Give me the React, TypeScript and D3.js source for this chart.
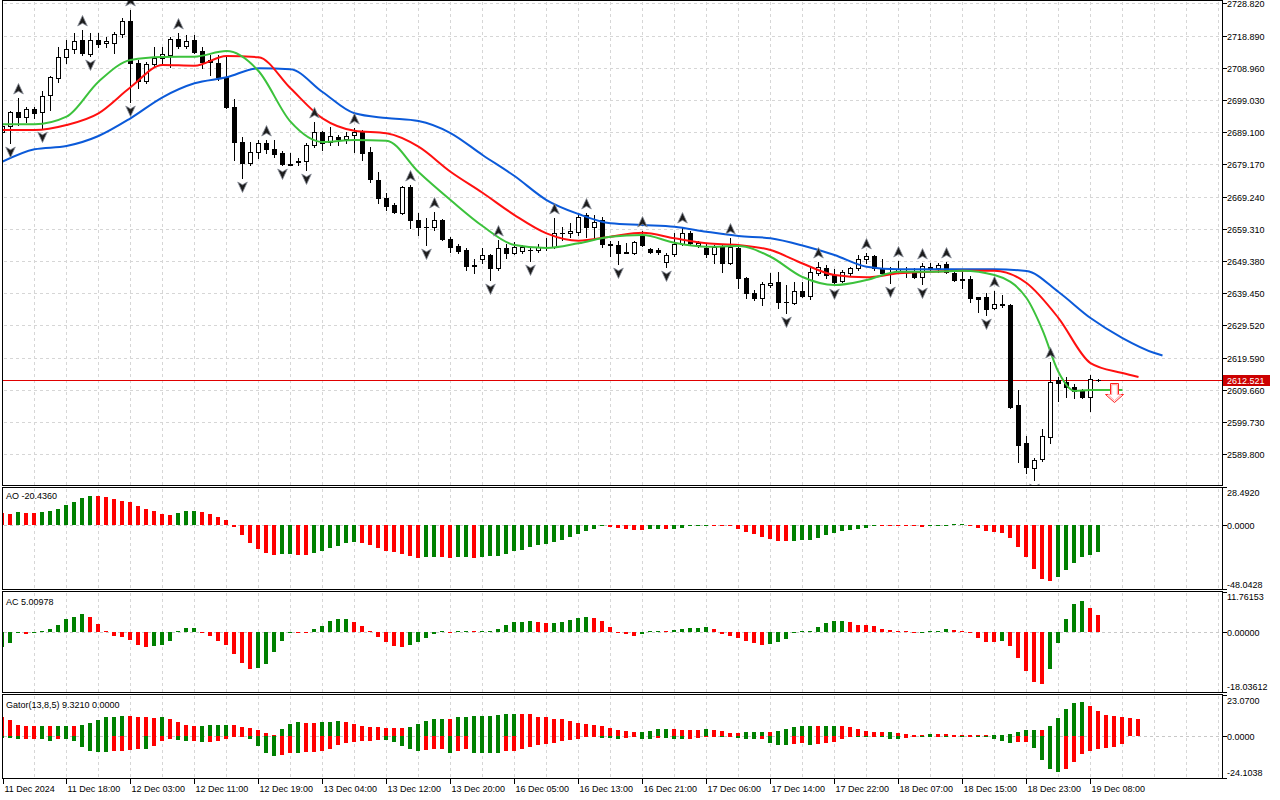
import React, { useRef, useEffect } from "react";
import * as d3 from "d3";

// H1 candles, 11 Dec 10:00 .. 19 Dec 08:00 (bar 0 is partly hidden by the left border)
const opens = [
  2689.13, 2690.98, 2695.3, 2693.76, 2696.22, 2695.3, 2700.54, 2705.78, 2712.26, 2714.73,
  2717.5, 2713.19, 2717.5, 2716.58, 2716.58, 2719.36, 2723.36, 2710.41, 2704.86, 2710.1,
  2711.95, 2712.88, 2717.81, 2715.65, 2717.5, 2714.11, 2711.34, 2710.41, 2706.09, 2696.84,
  2686.05, 2679.57, 2682.96, 2685.74, 2683.89, 2682.65, 2679.26, 2680.19, 2680.19, 2685.12,
  2689.13, 2686.05, 2687.59, 2686.97, 2688.21, 2689.13, 2682.96, 2674.33, 2668.78, 2666.62,
  2664.15, 2672.17, 2662.02, 2659.83, 2659.83, 2662.02, 2656.13, 2653.97, 2652.74, 2648.11,
  2649.87, 2651.2, 2647.19, 2653.36, 2651.82, 2652.53, 2652.74, 2652.74, 2653.67, 2653.67,
  2657.98, 2657.98, 2658.29, 2663.53, 2659.83, 2662.0, 2654.59, 2654.28, 2652.12, 2651.82,
  2657.06, 2653.05, 2652.74, 2649.04, 2651.51, 2654.59, 2657.98, 2654.28, 2653.36, 2651.51,
  2653.67, 2648.73, 2653.36, 2644.1, 2639.48, 2637.94, 2641.95, 2642.87, 2636.7, 2636.4,
  2640.1, 2638.55, 2645.65, 2647.19, 2645.03, 2643.18, 2645.65, 2647.19, 2649.96, 2650.89,
  2646.88, 2645.65, 2646.26, 2646.36, 2645.96, 2644.41, 2647.5, 2647.19, 2648.42, 2645.65,
  2643.8, 2643.8, 2638.25, 2638.25, 2634.85, 2636.09, 2635.78, 2604.94, 2593.22, 2585.51,
  2588.28, 2595.07, 2612.65, 2612.03, 2610.49, 2609.26, 2607.41, 2612.8,
];
const highs = [
  2691.91, 2695.61, 2699.62, 2696.84, 2696.84, 2701.78, 2706.4, 2715.34, 2717.5, 2719.66,
  2720.59, 2719.66, 2719.66, 2718.43, 2719.97, 2724.29, 2726.76, 2711.34, 2710.72, 2715.34,
  2715.34, 2718.43, 2719.66, 2719.05, 2719.05, 2715.34, 2712.88, 2712.88, 2712.26, 2699.31,
  2687.59, 2686.05, 2686.66, 2686.66, 2686.66, 2683.27, 2682.65, 2681.11, 2685.74, 2692.22,
  2689.44, 2690.67, 2688.21, 2689.13, 2690.36, 2689.75, 2684.51, 2676.79, 2670.32, 2667.24,
  2672.48, 2672.79, 2664.15, 2662.61, 2664.46, 2662.3, 2656.75, 2654.59, 2653.36, 2649.96,
  2653.36, 2651.51, 2655.82, 2654.59, 2655.21, 2654.28, 2653.67, 2654.59, 2656.44, 2662.61,
  2659.83, 2661.07, 2663.53, 2664.15, 2663.53, 2662.92, 2655.52, 2655.52, 2654.9, 2655.52,
  2658.6, 2653.36, 2653.36, 2651.82, 2657.98, 2659.83, 2658.6, 2655.52, 2654.9, 2654.28,
  2654.59, 2656.44, 2653.97, 2644.41, 2640.4, 2642.87, 2645.65, 2645.96, 2641.95, 2642.87,
  2642.87, 2647.5, 2649.04, 2648.11, 2646.88, 2646.57, 2647.5, 2651.2, 2651.82, 2651.2,
  2649.96, 2647.5, 2649.35, 2647.5, 2647.19, 2648.73, 2648.73, 2648.73, 2649.04, 2646.57,
  2646.88, 2644.72, 2638.4, 2639.48, 2640.1, 2638.86, 2636.09, 2609.57, 2595.38, 2588.59,
  2597.54, 2618.2, 2613.57, 2613.57, 2611.41, 2609.87, 2614.19, 2612.96,
];
const lows = [
  2688.51, 2685.74, 2691.29, 2692.22, 2693.45, 2690.36, 2695.92, 2704.55, 2710.41, 2713.49,
  2712.88, 2712.57, 2715.35, 2715.35, 2713.49, 2718.43, 2698.38, 2702.7, 2704.24, 2709.18,
  2710.41, 2709.18, 2715.04, 2715.04, 2713.49, 2708.87, 2706.71, 2705.17, 2696.53, 2680.5,
  2674.94, 2678.95, 2681.11, 2682.65, 2681.42, 2678.95, 2678.95, 2678.95, 2677.41, 2684.51,
  2683.58, 2685.12, 2685.12, 2685.74, 2682.96, 2680.5, 2673.71, 2667.24, 2665.08, 2664.15,
  2663.84, 2659.53, 2657.37, 2654.28, 2658.91, 2655.82, 2652.12, 2651.82, 2646.57, 2645.65,
  2648.73, 2643.49, 2646.57, 2650.27, 2651.51, 2651.82, 2649.35, 2652.12, 2652.74, 2653.36,
  2655.82, 2656.75, 2657.37, 2656.75, 2656.75, 2653.67, 2650.89, 2648.42, 2651.82, 2651.51,
  2653.97, 2651.82, 2651.51, 2647.5, 2650.89, 2654.28, 2654.28, 2653.67, 2650.58, 2648.73,
  2645.96, 2648.42, 2641.02, 2637.94, 2637.32, 2635.78, 2641.33, 2634.85, 2633.31, 2636.09,
  2638.25, 2637.63, 2645.03, 2644.1, 2641.95, 2642.87, 2645.03, 2646.57, 2648.73, 2646.57,
  2645.03, 2642.56, 2645.65, 2644.41, 2644.26, 2642.25, 2646.26, 2645.96, 2645.65, 2643.18,
  2641.02, 2636.7, 2633.62, 2632.69, 2634.54, 2635.16, 2604.01, 2587.36, 2583.97, 2581.81,
  2587.67, 2593.22, 2606.17, 2607.41, 2607.1, 2607.1, 2603.09, 2612.34,
];
const closes = [
  2690.98, 2695.3, 2693.76, 2696.22, 2694.99, 2700.23, 2706.09, 2712.26, 2714.73, 2717.2,
  2713.49, 2717.5, 2716.27, 2717.2, 2719.36, 2723.36, 2710.41, 2704.86, 2710.1, 2711.95,
  2713.19, 2717.81, 2715.65, 2717.2, 2713.8, 2710.72, 2710.72, 2706.09, 2696.84, 2686.05,
  2679.57, 2682.96, 2685.74, 2683.89, 2682.35, 2679.26, 2679.11, 2680.03, 2685.12, 2689.13,
  2685.74, 2687.9, 2686.97, 2687.9, 2689.13, 2682.65, 2674.64, 2668.78, 2666.31, 2664.46,
  2672.17, 2662.02, 2659.83, 2659.7, 2661.99, 2656.13, 2653.67, 2652.43, 2647.81, 2647.96,
  2651.2, 2647.19, 2653.36, 2651.82, 2653.67, 2653.67, 2652.6, 2653.67, 2653.8, 2657.98,
  2658.07, 2658.6, 2662.92, 2659.83, 2661.38, 2654.59, 2654.44, 2651.82, 2651.97, 2655.21,
  2654.28, 2652.12, 2652.12, 2651.2, 2654.59, 2657.98, 2654.9, 2654.9, 2651.51, 2653.67,
  2648.73, 2653.67, 2644.1, 2639.48, 2637.94, 2642.25, 2642.56, 2636.7, 2636.86, 2640.1,
  2638.55, 2645.96, 2647.5, 2645.03, 2642.87, 2645.96, 2647.19, 2649.96, 2650.89, 2647.19,
  2645.65, 2645.34, 2646.88, 2646.42, 2644.41, 2647.81, 2647.34, 2648.11, 2645.96, 2643.49,
  2643.64, 2637.94, 2637.78, 2634.54, 2636.09, 2635.93, 2604.32, 2592.6, 2585.82, 2587.98,
  2595.38, 2612.03, 2611.72, 2610.49, 2609.26, 2607.41, 2612.96, 2612.52,
];

const fractalUpBars = [2, 10, 16, 22, 33, 39, 44, 51, 54, 62, 69, 73, 80, 85, 91, 102, 108, 112, 115, 118, 124, 131];
const fractalDownBars = [1, 5, 11, 16, 30, 35, 38, 53, 61, 66, 77, 83, 98, 104, 111, 115, 123, 129];

// Alligator lines, read every 4 bars (already shifted forward)
const jawBars = [0, 4, 8, 12, 16, 20, 24, 28, 32, 36, 40, 44, 48, 52, 56, 60, 64, 68, 72, 76, 80, 84, 88, 92, 96, 100, 104, 108, 112, 116, 120, 124, 128, 132, 136, 140, 144, 145];
const jawValues = [
  2679.97, 2683.8, 2684.81, 2687.9, 2693.36, 2699.83, 2704.15, 2706.0, 2708.78, 2708.47,
  2701.47, 2694.9, 2693.45, 2692.52, 2688.82, 2682.04, 2675.56, 2668.16, 2663.84, 2660.97,
  2660.45, 2659.93, 2658.38, 2657.06, 2656.35, 2654.13, 2651.2, 2647.59, 2646.79, 2646.79,
  2646.79, 2646.79, 2646.26, 2639.79, 2631.77, 2625.6, 2620.97, 2620.2,
];
const teethBars = [0, 4, 8, 12, 16, 20, 24, 28, 32, 36, 40, 44, 48, 52, 56, 60, 64, 68, 72, 76, 80, 84, 88, 92, 96, 100, 104, 108, 112, 116, 120, 124, 128, 132, 136, 140, 142];
const teethValues = [
  2689.75, 2689.75, 2691.29, 2694.9, 2702.92, 2709.79, 2709.58, 2712.57, 2712.17, 2702.61,
  2693.36, 2689.53, 2688.73, 2684.6, 2676.89, 2670.41, 2663.53, 2657.89, 2655.61, 2656.84,
  2658.08, 2656.35, 2654.81, 2654.28, 2652.74, 2648.58, 2645.03, 2644.32, 2645.55, 2646.05,
  2646.36, 2646.36, 2642.56, 2631.77, 2617.89, 2614.81, 2613.57,
];
const lipsBars = [0, 4, 8, 12, 16, 20, 24, 28, 32, 36, 40, 44, 48, 52, 56, 60, 64, 68, 72, 76, 80, 84, 88, 92, 96, 100, 104, 108, 112, 116, 120, 124, 128, 130, 132, 134, 136, 140];
const lipsValues = [
  2691.51, 2691.51, 2693.85, 2704.64, 2711.34, 2712.26, 2712.35, 2714.11, 2707.94, 2692.31,
  2686.05, 2686.66, 2686.45, 2676.8, 2668.16, 2660.14, 2654.28, 2653.36, 2654.81, 2656.84,
  2657.37, 2654.99, 2653.76, 2653.97, 2650.67, 2644.41, 2641.95, 2643.49, 2646.05, 2646.05,
  2646.36, 2645.03, 2637.94, 2628.07, 2615.12, 2609.26, 2609.56, 2609.56,
];

const aoValues = [
  8.84, 8.33, 9.85, 9.34, 9.1, 9.6, 10.86, 12.37, 15.4, 17.42,
  20.45, 22.22, 21.97, 21.21, 19.7, 18.43, 17.17, 14.39, 11.87, 10.61,
  8.33, 7.58, 9.09, 10.61, 10.86, 9.85, 8.33, 6.06, 3.79, -1.26,
  -7.58, -13.38, -18.18, -21.46, -22.47, -21.97, -21.72, -22.47, -22.73, -20.96,
  -19.44, -17.42, -15.66, -13.38, -12.63, -13.38, -15.15, -17.17, -19.44, -20.45,
  -21.97, -23.23, -24.75, -24.24, -23.99, -24.24, -24.75, -24.24, -23.99, -24.75,
  -24.49, -23.74, -23.23, -21.72, -19.7, -18.69, -16.92, -15.15, -14.14, -12.88,
  -11.36, -8.84, -6.57, -4.55, -3.03, -1.0, -1.2, -2.3, -3.03, -3.79,
  -3.9, -3.28, -2.78, -3.03, -2.78, -2.02, -0.51, -0.25, -0.1, -0.3,
  -0.76, -1.01, -2.78, -5.56, -6.82, -8.84, -10.35, -11.87, -12.0, -11.87,
  -11.7, -11.36, -9.6, -7.32, -5.81, -4.55, -3.79, -2.78, -2.02, -0.51,
  -0.6, -0.7, -0.8, -0.9, -1.01, -1.26, -0.51, -0.4, -0.25, 0.76,
  0.8, -0.51, -2.02, -4.29, -5.05, -6.31, -9.6, -16.41, -23.99, -33.08,
  -40.66, -42.17, -39.14, -33.84, -28.54, -23.99, -22.47, -20.44,
];
const acValues = [
  -4.22, -3.04, -0.28, -0.35, -0.2, 0.1, 1.01, 2.19, 3.87, 4.46,
  5.45, 4.66, 2.49, 0.2, -0.97, -1.26, -2.25, -3.73, -4.22, -3.93,
  -3.85, -2.45, 0.2, 1.3, 1.35, -0.2, -0.97, -2.45, -3.63, -6.3,
  -8.97, -10.74, -10.45, -9.26, -5.71, -2.45, -0.08, -0.15, -0.2, 1.01,
  1.99, 3.48, 4.07, 4.1, 3.18, 1.99, 0.32, -1.26, -2.74, -3.93,
  -4.22, -3.73, -2.74, -1.56, -0.5, 0.1, -0.08, 0.32, 0.41, 0.0,
  0.22, 0.41, 1.01, 2.19, 3.08, 3.1, 3.38, 3.08, 2.88, 2.9,
  3.08, 3.67, 4.36, 4.56, 4.27, 3.38, 1.7, -0.08, -0.47, -0.97,
  -0.57, 0.1, 0.22, 0.2, 0.71, 1.01, 1.2, 1.3, 1.7, 0.91,
  -0.38, -0.97, -1.66, -2.65, -3.24, -3.73, -3.44, -2.74, -1.86, -0.28,
  0.02, 0.32, 1.5, 2.69, 3.38, 3.4, 2.98, 2.19, 2.15, 1.99,
  1.01, 0.61, 0.22, 0.02, -0.1, -0.05, 0.32, 0.41, 0.91, 0.85,
  0.51, -0.08, -1.56, -2.74, -2.8, -2.45, -3.93, -7.48, -11.33, -14.59,
  -15.19, -10.74, -3.04, 3.87, 8.41, 9.3, 7.23, 5.01,
];
const gatorUpper = [
  10.54, 9.04, 6.23, 5.67, 5.6, 5.67, 5.6, 5.67, 5.7, 5.65,
  6.23, 7.54, 9.04, 10.54, 10.91, 11.29, 11.2, 10.91, 10.72, 10.16,
  10.72, 9.6, 7.92, 6.23, 5.67, 5.7, 6.23, 6.25, 6.3, 6.23,
  5.11, 4.55, 3.42, 1.74, 0.62, 3.99, 6.79, 7.92, 7.36, 7.3,
  7.92, 7.95, 8.48, 7.92, 6.79, 5.67, 5.11, 5.05, 4.55, 4.5,
  4.36, 5.11, 6.79, 8.67, 9.6, 9.65, 9.55, 10.54, 10.91, 11.1,
  11.2, 11.47, 11.85, 12.2, 12.41, 12.35, 12.22, 10.91, 10.54, 9.79,
  9.41, 8.67, 7.54, 6.79, 6.05, 5.67, 4.55, 3.43, 3.05, 2.3,
  2.35, 3.05, 3.8, 4.17, 3.8, 3.43, 3.4, 3.35, 3.8, 3.43,
  3.05, 1.8, 1.6, 2.11, 2.3, 2.35, 2.11, 3.05, 4.17, 5.3,
  5.67, 5.7, 5.65, 5.67, 5.7, 5.65, 4.92, 3.99, 3.05, 2.3,
  2.28, 2.3, 1.55, 0.99, 0.8, 0.62, 0.99, 0.95, 0.9, 0.85,
  0.8, 0.62, 0.24, 0.05, 0.3, 0.62, 1.18, 2.3, 3.42, 3.6,
  3.42, 5.67, 10.16, 15.22, 18.58, 19.15, 16.91, 14.09, 12.03, 11.28,
  10.72, 10.16, 9.32,
];
const gatorLower = [
  -0.88, -1.25, -1.82, -1.8, -1.44, -1.82, -2.56, -1.82, -1.9, -2.94,
  -5.93, -8.18, -8.74, -8.8, -8.18, -8.1, -7.8, -7.06, -7.1, -5.37,
  -2.56, -1.44, -2.0, -2.56, -2.5, -3.13, -3.1, -2.56, -1.44, -0.32,
  -0.3, -1.44, -5.37, -9.3, -10.99, -10.42, -9.3, -9.32, -8.74, -8.7,
  -8.18, -7.06, -4.81, -3.69, -3.13, -2.56, -2.5, -2.0, -2.05, -3.13,
  -5.37, -7.43, -8.18, -7.8, -7.43, -7.4, -9.3, -8.18, -7.43, -9.3,
  -9.35, -9.4, -9.45, -8.18, -8.1, -7.06, -6.31, -5.18, -4.43, -4.06,
  -2.94, -2.19, -1.44, -0.32, -0.3, -0.88, -0.9, -1.44, -0.88, -0.32,
  -1.44, -1.5, -0.88, -0.9, -1.44, -1.5, -1.44, -0.88, -0.32, -0.3,
  -0.35, -0.05, -0.88, -1.44, -1.5, -1.44, -3.69, -4.81, -4.85, -4.43,
  -3.69, -5.0, -4.43, -4.06, -3.31, -1.44, -0.32, -0.4, -0.45, -0.35,
  -0.4, -1.44, -1.5, -0.88, -0.32, -0.35, -0.4, -0.3, -0.32, -0.25,
  -0.28, -0.26, -0.3, -0.5, -1.63, -2.75, -3.69, -3.31, -3.3, -6.68,
  -13.42, -18.47, -19.97, -18.47, -14.36, -10.05, -8.37, -7.25, -6.68, -5.93,
  -4.43,
];
// colour of the first visible bar of each histogram (no previous bar on screen)
const aoFirstUp = false;
const acFirstUp = true;
const gatorUpperFirstUp = false;
const gatorLowerFirstUp = true;

const priceTicks = [2728.82, 2718.89, 2708.96, 2699.03, 2689.1, 2679.17, 2669.24, 2659.31, 2649.38, 2639.45, 2629.52, 2619.59, 2609.66, 2599.73, 2589.8];
const lastPrice = 2612.521;
const sellArrowBar = 139;
const sellArrowPrice = 2611.7;

const timeLabelBars = [0, 8, 16, 24, 32, 40, 48, 56, 64, 72, 80, 88, 96, 104, 112, 120, 128, 136];
const timeLabels = [
  "11 Dec 2024", "11 Dec 18:00", "12 Dec 03:00", "12 Dec 11:00", "12 Dec 19:00", "13 Dec 04:00",
  "13 Dec 12:00", "13 Dec 20:00", "16 Dec 05:00", "16 Dec 13:00", "16 Dec 21:00", "17 Dec 06:00",
  "17 Dec 14:00", "17 Dec 22:00", "18 Dec 07:00", "18 Dec 15:00", "18 Dec 23:00", "19 Dec 08:00",
];

const aoRange = [-48.0428, 28.492];
const acRange = [-18.03612, 11.76153];
const gatorRange = [-24.1038, 23.07];

const FONT = "'Liberation Sans', Arial, sans-serif";
const GREEN = "#008000";
const RED = "#ff0000";

const App: React.FC = () => {
  const svgRef = useRef<SVGSVGElement>(null);

  useEffect(() => {
    if (!svgRef.current) return;
    const svg = d3.select(svgRef.current);
    svg.selectAll("*").remove();

    const left = 2.5;
    const right = 1222.5;
    const panels = {
      main: [0.5, 485.5],
      ao: [487.5, 589.5],
      ac: [591.5, 692.5],
      gator: [694.5, 778.5],
    };

    const x = d3.scaleLinear().domain([0, 1]).range([2, 10]);
    const yMain = d3.scaleLinear().domain([2580.9, 2728.82]).range([483, 3.3]);
    const yAO = d3.scaleLinear().domain(aoRange).range([588.4, 487.4]);
    const yAC = d3.scaleLinear().domain(acRange).range([693.3, 592.7]);
    const yGator = d3.scaleLinear().domain(gatorRange).range([779, 695]);

    svg.append("rect").attr("width", 1280).attr("height", 800).attr("fill", "#ffffff");

    const defs = svg.append("defs");
    Object.entries(panels).forEach(([key, [t, b]]) => {
      defs
        .append("clipPath")
        .attr("id", `clip-${key}`)
        .append("rect")
        .attr("x", left + 0.5)
        .attr("y", t + 0.5)
        .attr("width", right - left - 1)
        .attr("height", b - t - 1);
    });

    // grid
    const grid = svg.append("g").attr("stroke", "#d6d6d6").attr("stroke-dasharray", "3,3").attr("shape-rendering", "crispEdges");
    const vLines = d3.range(34, right, 32);
    Object.values(panels).forEach(([t, b]) => {
      vLines.forEach((vx) => {
        grid.append("line").attr("x1", vx + 0.5).attr("x2", vx + 0.5).attr("y1", t + 1).attr("y2", b - 1);
      });
    });
    priceTicks.forEach((p) => {
      const y = Math.round(yMain(p)) + 0.5;
      grid.append("line").attr("x1", left + 1).attr("x2", right - 1).attr("y1", y).attr("y2", y);
    });
    [yAO(0), yAC(0), yGator(0)].forEach((yy) => {
      const y = Math.round(yy) + 0.5;
      grid.append("line").attr("x1", left + 1).attr("x2", right - 1).attr("y1", y).attr("y2", y).attr("stroke", "#c8c8c8");
    });

    // ---- main panel
    const main = svg.append("g").attr("clip-path", "url(#clip-main)");

    const curLineY = Math.round(yMain(lastPrice)) + 0.5;
    main
      .append("line")
      .attr("x1", left)
      .attr("x2", right)
      .attr("y1", curLineY)
      .attr("y2", curLineY)
      .attr("stroke", "#e00000")
      .attr("stroke-width", 1)
      .attr("shape-rendering", "crispEdges");

    const candles = main.append("g").attr("shape-rendering", "crispEdges");
    opens.forEach((o, i) => {
      const c = closes[i];
      const cx = Math.round(x(i));
      const yh = Math.round(yMain(highs[i]));
      const yl = Math.round(yMain(lows[i]));
      const yo = Math.round(yMain(o));
      const yc = Math.round(yMain(c));
      const top = Math.min(yo, yc);
      const bot = Math.max(yo, yc);
      candles.append("rect").attr("x", cx).attr("y", yh).attr("width", 1).attr("height", Math.max(1, yl - yh + 1)).attr("fill", "#000");
      if (bot - top < 1) {
        candles.append("rect").attr("x", cx - 2).attr("y", top).attr("width", 5).attr("height", 1).attr("fill", "#000");
      } else if (c > o) {
        candles
          .append("rect")
          .attr("x", cx - 1.5)
          .attr("y", top + 0.5)
          .attr("width", 4)
          .attr("height", bot - top)
          .attr("fill", "#fff")
          .attr("stroke", "#000");
      } else {
        candles.append("rect").attr("x", cx - 2).attr("y", top).attr("width", 5).attr("height", bot - top + 1).attr("fill", "#000");
      }
    });

    const lineGen = d3
      .line<[number, number]>()
      .x((d) => x(d[0]) + 0.5)
      .y((d) => yMain(d[1]))
      .curve(d3.curveMonotoneX);
    const alligator: [number[], number[], string][] = [
      [jawBars, jawValues, "#0b5ad9"],
      [teethBars, teethValues, "#ff1010"],
      [lipsBars, lipsValues, "#3cc23c"],
    ];
    alligator.forEach(([bars, vals, color]) => {
      main
        .append("path")
        .datum(bars.map((b, k) => [b, vals[k]] as [number, number]))
        .attr("fill", "none")
        .attr("stroke", color)
        .attr("stroke-width", 2)
        .attr("d", lineGen);
    });

    // fractals
    const arrowUp = "M0,-5.5 L4.8,5 L0,2.2 L-4.8,5 Z";
    const arrowDown = "M0,5.5 L4.8,-5 L0,-2.2 L-4.8,-5 Z";
    fractalUpBars.forEach((i) => {
      main
        .append("path")
        .attr("d", arrowUp)
        .attr("transform", `translate(${Math.round(x(i)) + 0.5},${yMain(highs[i]) - 9})`)
        .attr("fill", "#1c1c1c")
        .attr("stroke", "#8a8f9a")
        .attr("stroke-width", 0.8);
    });
    fractalDownBars.forEach((i) => {
      main
        .append("path")
        .attr("d", arrowDown)
        .attr("transform", `translate(${Math.round(x(i)) + 0.5},${yMain(lows[i]) + 9})`)
        .attr("fill", "#1c1c1c")
        .attr("stroke", "#8a8f9a")
        .attr("stroke-width", 0.8);
    });

    // sell arrow object
    const ax = Math.round(x(sellArrowBar)) + 0.5;
    const ay = Math.round(yMain(sellArrowPrice)) + 0.5;
    const sellPath = (s: number) =>
      `M${ax - 4 + s},${ay + s} H${ax + 4 - s} V${ay + 11} H${ax + 9 - 2 * s} L${ax},${ay + 19 - 1.5 * s} L${ax - 9 + 2 * s},${ay + 11} H${ax - 4 + s} Z`;
    main.append("path").attr("d", sellPath(0)).attr("fill", "#fff").attr("stroke", "#ff2020").attr("stroke-width", 1);
    main.append("path").attr("d", sellPath(1.2)).attr("fill", "none").attr("stroke", "#ff9c9c").attr("stroke-width", 1);

    // ---- histograms
    const histo = (
      key: string,
      values: number[],
      y: d3.ScaleLinear<number, number>,
      firstUp: boolean,
      byMagnitude: boolean
    ) => {
      const g = svg.append("g").attr("clip-path", `url(#clip-${key})`).attr("shape-rendering", "crispEdges");
      const y0 = Math.round(y(0));
      values.forEach((v, i) => {
        let up = firstUp;
        if (i > 0) up = byMagnitude ? Math.abs(v) > Math.abs(values[i - 1]) : v > values[i - 1];
        const yv = Math.round(y(v));
        const top = Math.min(y0, yv);
        const h = Math.max(1, Math.abs(yv - y0));
        g.append("rect")
          .attr("x", Math.round(x(i)) - 2)
          .attr("y", v >= 0 ? y0 - h : y0)
          .attr("width", 4)
          .attr("height", h)
          .attr("fill", up ? GREEN : RED);
        void top;
      });
    };
    histo("ao", aoValues, yAO, aoFirstUp, false);
    histo("ac", acValues, yAC, acFirstUp, false);
    histo("gator", gatorUpper, yGator, gatorUpperFirstUp, false);
    histo("gator", gatorLower, yGator, gatorLowerFirstUp, true);

    // ---- frames
    const frame = svg.append("g").attr("fill", "none").attr("stroke", "#000").attr("shape-rendering", "crispEdges");
    Object.values(panels).forEach(([t, b]) => {
      frame.append("rect").attr("x", left).attr("y", t).attr("width", right - left).attr("height", b - t);
    });

    // ---- labels
    const txt = svg.append("g").attr("font-family", FONT).attr("font-size", 9).attr("fill", "#000");

    priceTicks.forEach((p) => {
      const y = Math.round(yMain(p)) + 0.5;
      frame.append("line").attr("x1", right).attr("x2", right + 4).attr("y1", y).attr("y2", y);
      txt.append("text").attr("x", 1227).attr("y", y).attr("dy", "0.35em").text(p.toFixed(3));
    });

    const subLabels: [number, number, string][] = [
      [492.7, 487.5, "28.4920"],
      [Math.round(yAO(0)) + 0.5, Math.round(yAO(0)) + 0.5, "0.0000"],
      [584.7, 589.5, "-48.0428"],
      [597.3, 592.5, "11.76153"],
      [Math.round(yAC(0)) + 0.5, Math.round(yAC(0)) + 0.5, "0.00000"],
      [687.3, 692.5, "-18.03612"],
      [700.7, 695.5, "23.0700"],
      [Math.round(yGator(0)) + 0.5, Math.round(yGator(0)) + 0.5, "0.0000"],
      [773.3, 778.5, "-24.1038"],
    ];
    subLabels.forEach(([ty, tickY, label]) => {
      frame.append("line").attr("x1", right).attr("x2", right + 4).attr("y1", tickY).attr("y2", tickY);
      txt.append("text").attr("x", 1227).attr("y", ty).attr("dy", "0.35em").text(label);
    });

    // current price tag
    svg
      .append("rect")
      .attr("x", 1223)
      .attr("y", curLineY - 5.5)
      .attr("width", 47)
      .attr("height", 11)
      .attr("fill", "#cc0000");
    svg
      .append("text")
      .attr("x", 1227)
      .attr("y", curLineY)
      .attr("dy", "0.35em")
      .attr("font-family", FONT)
      .attr("font-size", 9)
      .attr("fill", "#fff")
      .text(lastPrice.toFixed(3));

    txt.append("text").attr("x", 6).attr("y", 496).attr("dy", "0.35em").text("AO -20.4360");
    txt.append("text").attr("x", 6).attr("y", 601.5).attr("dy", "0.35em").text("AC 5.00978");
    txt.append("text").attr("x", 6).attr("y", 705).attr("dy", "0.35em").text("Gator(13,8,5) 9.3210 0.0000");

    timeLabelBars.forEach((b, k) => {
      const tx = Math.max(Math.round(x(b)), 3) + 0.5;
      frame.append("line").attr("x1", tx).attr("x2", tx).attr("y1", 778.5).attr("y2", 784);
      txt.append("text").attr("x", tx + 1).attr("y", 788.5).attr("dy", "0.35em").text(timeLabels[k]);
    });
  }, []);

  return (
    <div style={{ position: "absolute", left: 0, top: 0 }}>
      <svg ref={svgRef} width={1280} height={800} style={{ display: "block" }} />
    </div>
  );
};

export default App;
